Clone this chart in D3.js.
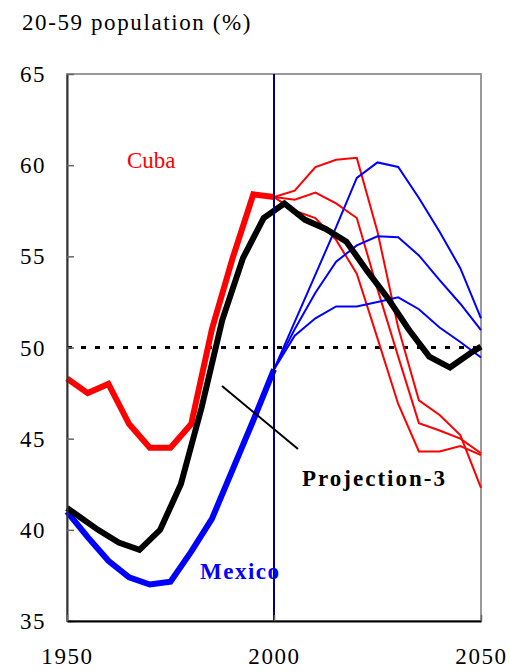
<!DOCTYPE html>
<html>
<head>
<meta charset="utf-8">
<script src="https://cdn.jsdelivr.net/npm/d3@7"></script>
<style>
  body { margin: 0; background: #fff; }
</style>
</head>
<body>
<svg></svg>
<script>
/* Observed years */
let histYears = [1950, 1955, 1960, 1965, 1970, 1975, 1980, 1985, 1990, 1995, 2000]
let projYears = [2000, 2005, 2010, 2015, 2020, 2025, 2030, 2035, 2040, 2045, 2050]
let projection3Years = [1950, 1952.5, 1957.5, 1962.5, 1967.5, 1972.5, 1977.5, 1982.5, 1987.5, 1992.5,
  1997.5, 2002.5, 2007.5, 2012.5, 2017.5, 2022.5, 2027.5, 2032.5, 2037.5, 2042.5, 2047.5, 2050]

/* Share of population aged 20-59 (%) */
let cubaHist = [48.3, 47.5, 48.0, 45.8, 44.5, 44.5, 45.8, 51.0, 54.9, 58.4, 58.25]
let mexicoHist = [41.0, 39.6, 38.3, 37.4, 37.0, 37.15, 38.8, 40.6, 43.3, 46.0, 48.8]

let cubaProjHigh = [58.25, 58.6, 59.9, 60.3, 60.4, 56.35, 51.1, 47.1, 46.3, 45.2, 42.3]
let cubaProjMid = [58.25, 58.1, 58.5, 57.9, 57.1, 53.2, 49.5, 45.85, 45.45, 45.0, 44.2]
let cubaProjLow = [58.25, 57.5, 57.1, 55.9, 54.05, 50.5, 46.9, 44.3, 44.3, 44.6, 44.1]

let mexicoProjHigh = [48.8, 51.4, 54.0, 56.6, 59.3, 60.15, 59.9, 58.2, 56.35, 54.35, 51.6]
let mexicoProjMid = [48.8, 51.0, 53.0, 54.7, 55.6, 56.1, 56.05, 55.05, 53.7, 52.4, 50.95]
let mexicoProjLow = [48.8, 50.65, 51.6, 52.25, 52.25, 52.5, 52.75, 52.1, 51.1, 50.3, 49.45]

let projection3 = [41.2, 40.8, 40.0, 39.3, 38.9, 40.0, 42.5, 46.7, 51.5, 54.9,
  57.1, 57.9, 57.0, 56.5, 55.8, 54.2, 52.7, 51.0, 49.5, 48.9, 49.7, 50.05]

let yTicks = [35, 40, 45, 50, 55, 60, 65]
let xTicks = [1950, 2000, 2050]
let referenceLevel = 50
let baseYear = 2000

let svgWidth = 510
let svgHeight = 671
let plotLeft = 67
let plotRight = 481
let plotTop = 74
let plotBottom = 621
let serif = "'Liberation Serif', 'Times New Roman', serif"

let svg = d3.select('svg')
    .attr('width', svgWidth)
    .attr('height', svgHeight)

let xScale = d3.scaleLinear()
                .domain([1950, 2050])
                .range([plotLeft, plotRight])

let yScale = d3.scaleLinear()
                .domain([35, 65])
                .range([plotBottom, plotTop])

let line = d3.line()
              .x(d => xScale(d[0]))
              .y(d => yScale(d[1]))

let zipped = (years, vals) => years.map((y, i) => [y, vals[i]])

/* Plot frame */
svg.append('rect')
    .attr('x', plotLeft)
    .attr('y', plotTop)
    .attr('width', plotRight - plotLeft)
    .attr('height', plotBottom - plotTop)
    .attr('fill', 'none')
    .attr('stroke', '#999')
    .attr('stroke-width', 2)

/* Dotted 50% line */
svg.append('line')
    .attr('x1', xScale(1950))
    .attr('x2', xScale(2050))
    .attr('y1', yScale(referenceLevel))
    .attr('y2', yScale(referenceLevel))
    .attr('stroke', '#000')
    .attr('stroke-width', 3)
    .attr('stroke-dasharray', '5 9')

/* Projection bundles */
let thinSeries = [
  [cubaProjHigh, '#ff0000'], [cubaProjMid, '#ff0000'], [cubaProjLow, '#ff0000'],
  [mexicoProjHigh, '#0000ff'], [mexicoProjMid, '#0000ff'], [mexicoProjLow, '#0000ff']
]

svg.selectAll('.proj')
    .data(thinSeries)
    .enter()
    .append('path')
      .classed('proj', true)
      .attr('d', d => line(zipped(projYears, d[0])))
      .attr('fill', 'none')
      .attr('stroke', d => d[1])
      .attr('stroke-width', 2)

/* Thick observed lines */
let thickSeries = [
  [histYears, cubaHist, '#ff0000'],
  [histYears, mexicoHist, '#0000ff'],
  [projection3Years, projection3, '#000']
]

svg.selectAll('.hist')
    .data(thickSeries)
    .enter()
    .append('path')
      .classed('hist', true)
      .attr('d', d => line(zipped(d[0], d[1])))
      .attr('fill', 'none')
      .attr('stroke', d => d[2])
      .attr('stroke-width', 6)

/* Year 2000 marker */
svg.append('line')
    .attr('x1', xScale(baseYear))
    .attr('x2', xScale(baseYear))
    .attr('y1', plotTop)
    .attr('y2', plotBottom)
    .attr('stroke', '#000080')
    .attr('stroke-width', 2)

/* y-axis */
let yAxis = d3.axisLeft(yScale)
              .tickValues(yTicks)
              .tickSizeInner(-7)
              .tickSizeOuter(0)
              .tickPadding(21)

svg.append('g')
    .attr('transform', `translate(${plotLeft}, 0)`)
    .call(yAxis)
    .call(g => g.select('.domain').attr('stroke', '#333').attr('stroke-width', 2))
    .call(g => g.selectAll('.tick line').attr('stroke', '#666').attr('stroke-width', 1.5))
    .selectAll('text')
      .style('font-family', serif)
      .style('font-size', '23px')
      .style('letter-spacing', '1.5px')
      .attr('fill', '#000')
      .attr('dy', '0.33em')

/* x-axis */
let xAxis = d3.axisBottom(xScale)
              .tickValues(xTicks)
              .tickFormat(d3.format('d'))
              .tickSizeInner(-6)
              .tickSizeOuter(0)
              .tickPadding(27)

svg.append('g')
    .attr('transform', `translate(0, ${plotBottom})`)
    .call(xAxis)
    .call(g => g.select('.domain').attr('stroke', '#000').attr('stroke-width', 2))
    .call(g => g.selectAll('.tick line').attr('stroke', '#666').attr('stroke-width', 1.5))
    .selectAll('text')
      .style('font-family', serif)
      .style('font-size', '23px')
      .style('letter-spacing', '1.6px')
      .attr('fill', '#000')
      .attr('dy', '0.71em')

/* Title */
svg.append('text')
    .attr('x', 22)
    .attr('y', 30)
    .style('font-family', serif)
    .style('font-size', '23px')
    .style('letter-spacing', '1.6px')
    .text('20-59 population (%)')

/* Labels */
svg.append('text')
    .attr('x', 127)
    .attr('y', 168)
    .style('font-family', serif)
    .style('font-size', '23px')
    .attr('fill', '#ff0000')
    .text('Cuba')

svg.append('text')
    .attr('x', 200)
    .attr('y', 579)
    .style('font-family', serif)
    .style('font-size', '23px')
    .style('font-weight', 'bold')
    .style('letter-spacing', '1.5px')
    .attr('fill', '#0000ff')
    .text('Mexico')

svg.append('text')
    .attr('x', 302)
    .attr('y', 486)
    .style('font-family', serif)
    .style('font-size', '23px')
    .style('font-weight', 'bold')
    .style('letter-spacing', '2px')
    .text('Projection-3')

/* Pointer to Projection-3 */
svg.append('line')
    .attr('x1', 222)
    .attr('y1', 386)
    .attr('x2', 298)
    .attr('y2', 449)
    .attr('stroke', '#000')
    .attr('stroke-width', 2)
</script>
</body>
</html>
